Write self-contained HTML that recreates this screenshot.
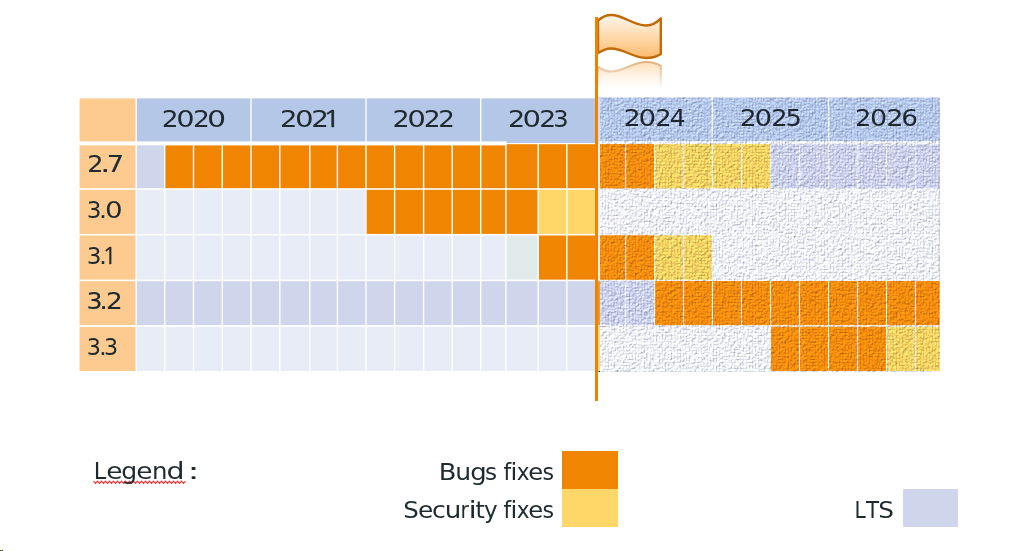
<!DOCTYPE html>
<html><head><meta charset="utf-8"><style>
html,body{margin:0;padding:0;background:#fff;width:1027px;height:551px;overflow:hidden}
svg{position:absolute;left:0;top:0;will-change:transform}
.t{font-family:"DejaVu Sans","Liberation Sans",sans-serif;font-size:23.5px;fill:#1F2A2F}
.bold{stroke:#1F2A2F;stroke-width:0.12px}
.one{font-family:"NanumGothic",sans-serif;stroke:#1F2A2F;stroke-width:0.35px}
.lg2{font-variant-ligatures:none;font-feature-settings:"liga" 0}
.lg{font-family:"DejaVu Sans","Liberation Sans",sans-serif;font-size:23px;fill:#1F2A2F;font-variant-ligatures:none;font-feature-settings:"liga" 0}
</style></head><body>
<svg width="1027" height="551" viewBox="0 0 1027 551">
<defs>
<filter id="cv" x="597" y="97" width="344" height="276" filterUnits="userSpaceOnUse" color-interpolation-filters="sRGB">
<feTurbulence type="fractalNoise" baseFrequency="0.7 0.28" numOctaves="2" seed="3" result="a0"/>
<feColorMatrix in="a0" type="matrix" values="1 0 0 0 0  1 0 0 0 0  1 0 0 0 0  0 0 0 0 1" result="a"/>
<feTurbulence type="fractalNoise" baseFrequency="0.28 0.7" numOctaves="2" seed="11" result="b0"/>
<feColorMatrix in="b0" type="matrix" values="1 0 0 0 0  1 0 0 0 0  1 0 0 0 0  0 0 0 0 1" result="b"/>
<feComposite in="a" in2="b" operator="arithmetic" k2="0.5" k3="0.5" result="ab"/>
<feColorMatrix in="ab" type="matrix" values="0 0 0 0 0  0 0 0 0 0  0 0 0 0 0  1 0 0 0 0" result="h"/>
<feDiffuseLighting in="h" surfaceScale="1.4" diffuseConstant="1.0" lighting-color="#FAFBFF" result="l">
<feDistantLight azimuth="235" elevation="60"/>
</feDiffuseLighting>
<feComposite in="SourceGraphic" in2="l" operator="arithmetic" k1="1.17" k2="0" k3="0" k4="0"/>
</filter>
<pattern id="wv" x="0" y="0" width="36" height="36" patternUnits="userSpaceOnUse"><rect width="36" height="36" fill="#fff"/><rect x="2" y="0" width="1" height="3" fill="#6270A8" fill-opacity="0.16"/><rect x="0" y="2" width="2" height="1" fill="#6270A8" fill-opacity="0.17"/><rect x="2" y="3" width="1" height="3" fill="#6270A8" fill-opacity="0.20"/><rect x="0" y="5" width="2" height="1" fill="#6270A8" fill-opacity="0.21"/><rect x="2" y="6" width="1" height="3" fill="#6270A8" fill-opacity="0.19"/><rect x="0" y="8" width="2" height="1" fill="#6270A8" fill-opacity="0.20"/><rect x="2" y="9" width="1" height="3" fill="#6270A8" fill-opacity="0.03"/><rect x="0" y="11" width="2" height="1" fill="#6270A8" fill-opacity="0.11"/><rect x="2" y="12" width="1" height="3" fill="#6270A8" fill-opacity="0.23"/><rect x="0" y="14" width="2" height="1" fill="#6270A8" fill-opacity="0.15"/><rect x="2" y="15" width="1" height="3" fill="#6270A8" fill-opacity="0.23"/><rect x="0" y="17" width="2" height="1" fill="#6270A8" fill-opacity="0.04"/><rect x="2" y="18" width="1" height="3" fill="#6270A8" fill-opacity="0.13"/><rect x="0" y="20" width="2" height="1" fill="#6270A8" fill-opacity="0.07"/><rect x="2" y="21" width="1" height="3" fill="#6270A8" fill-opacity="0.14"/><rect x="0" y="23" width="2" height="1" fill="#6270A8" fill-opacity="0.13"/><rect x="2" y="24" width="1" height="3" fill="#6270A8" fill-opacity="0.03"/><rect x="0" y="26" width="2" height="1" fill="#6270A8" fill-opacity="0.06"/><rect x="2" y="27" width="1" height="3" fill="#6270A8" fill-opacity="0.09"/><rect x="0" y="29" width="2" height="1" fill="#6270A8" fill-opacity="0.20"/><rect x="2" y="30" width="1" height="3" fill="#6270A8" fill-opacity="0.19"/><rect x="0" y="32" width="2" height="1" fill="#6270A8" fill-opacity="0.05"/><rect x="2" y="33" width="1" height="3" fill="#6270A8" fill-opacity="0.20"/><rect x="0" y="35" width="2" height="1" fill="#6270A8" fill-opacity="0.05"/><rect x="5" y="0" width="1" height="3" fill="#6270A8" fill-opacity="0.16"/><rect x="3" y="2" width="2" height="1" fill="#6270A8" fill-opacity="0.05"/><rect x="5" y="3" width="1" height="3" fill="#6270A8" fill-opacity="0.02"/><rect x="3" y="5" width="2" height="1" fill="#6270A8" fill-opacity="0.19"/><rect x="5" y="6" width="1" height="3" fill="#6270A8" fill-opacity="0.07"/><rect x="3" y="8" width="2" height="1" fill="#6270A8" fill-opacity="0.06"/><rect x="5" y="9" width="1" height="3" fill="#6270A8" fill-opacity="0.24"/><rect x="3" y="11" width="2" height="1" fill="#6270A8" fill-opacity="0.19"/><rect x="5" y="12" width="1" height="3" fill="#6270A8" fill-opacity="0.09"/><rect x="3" y="14" width="2" height="1" fill="#6270A8" fill-opacity="0.21"/><rect x="5" y="15" width="1" height="3" fill="#6270A8" fill-opacity="0.14"/><rect x="3" y="17" width="2" height="1" fill="#6270A8" fill-opacity="0.16"/><rect x="5" y="18" width="1" height="3" fill="#6270A8" fill-opacity="0.07"/><rect x="3" y="20" width="2" height="1" fill="#6270A8" fill-opacity="0.21"/><rect x="5" y="21" width="1" height="3" fill="#6270A8" fill-opacity="0.18"/><rect x="3" y="23" width="2" height="1" fill="#6270A8" fill-opacity="0.21"/><rect x="5" y="24" width="1" height="3" fill="#6270A8" fill-opacity="0.22"/><rect x="3" y="26" width="2" height="1" fill="#6270A8" fill-opacity="0.08"/><rect x="5" y="27" width="1" height="3" fill="#6270A8" fill-opacity="0.10"/><rect x="3" y="29" width="2" height="1" fill="#6270A8" fill-opacity="0.05"/><rect x="5" y="30" width="1" height="3" fill="#6270A8" fill-opacity="0.06"/><rect x="3" y="32" width="2" height="1" fill="#6270A8" fill-opacity="0.03"/><rect x="5" y="33" width="1" height="3" fill="#6270A8" fill-opacity="0.09"/><rect x="3" y="35" width="2" height="1" fill="#6270A8" fill-opacity="0.14"/><rect x="8" y="0" width="1" height="3" fill="#6270A8" fill-opacity="0.02"/><rect x="6" y="2" width="2" height="1" fill="#6270A8" fill-opacity="0.16"/><rect x="8" y="3" width="1" height="3" fill="#6270A8" fill-opacity="0.10"/><rect x="6" y="5" width="2" height="1" fill="#6270A8" fill-opacity="0.08"/><rect x="8" y="6" width="1" height="3" fill="#6270A8" fill-opacity="0.21"/><rect x="6" y="8" width="2" height="1" fill="#6270A8" fill-opacity="0.12"/><rect x="8" y="9" width="1" height="3" fill="#6270A8" fill-opacity="0.09"/><rect x="6" y="11" width="2" height="1" fill="#6270A8" fill-opacity="0.12"/><rect x="8" y="12" width="1" height="3" fill="#6270A8" fill-opacity="0.18"/><rect x="6" y="14" width="2" height="1" fill="#6270A8" fill-opacity="0.03"/><rect x="8" y="15" width="1" height="3" fill="#6270A8" fill-opacity="0.24"/><rect x="6" y="17" width="2" height="1" fill="#6270A8" fill-opacity="0.02"/><rect x="8" y="18" width="1" height="3" fill="#6270A8" fill-opacity="0.19"/><rect x="6" y="20" width="2" height="1" fill="#6270A8" fill-opacity="0.19"/><rect x="8" y="21" width="1" height="3" fill="#6270A8" fill-opacity="0.03"/><rect x="6" y="23" width="2" height="1" fill="#6270A8" fill-opacity="0.18"/><rect x="8" y="24" width="1" height="3" fill="#6270A8" fill-opacity="0.10"/><rect x="6" y="26" width="2" height="1" fill="#6270A8" fill-opacity="0.14"/><rect x="8" y="27" width="1" height="3" fill="#6270A8" fill-opacity="0.02"/><rect x="6" y="29" width="2" height="1" fill="#6270A8" fill-opacity="0.03"/><rect x="8" y="30" width="1" height="3" fill="#6270A8" fill-opacity="0.06"/><rect x="6" y="32" width="2" height="1" fill="#6270A8" fill-opacity="0.21"/><rect x="8" y="33" width="1" height="3" fill="#6270A8" fill-opacity="0.07"/><rect x="6" y="35" width="2" height="1" fill="#6270A8" fill-opacity="0.17"/><rect x="11" y="0" width="1" height="3" fill="#6270A8" fill-opacity="0.23"/><rect x="9" y="2" width="2" height="1" fill="#6270A8" fill-opacity="0.21"/><rect x="11" y="3" width="1" height="3" fill="#6270A8" fill-opacity="0.10"/><rect x="9" y="5" width="2" height="1" fill="#6270A8" fill-opacity="0.09"/><rect x="11" y="6" width="1" height="3" fill="#6270A8" fill-opacity="0.14"/><rect x="9" y="8" width="2" height="1" fill="#6270A8" fill-opacity="0.18"/><rect x="11" y="9" width="1" height="3" fill="#6270A8" fill-opacity="0.05"/><rect x="9" y="11" width="2" height="1" fill="#6270A8" fill-opacity="0.17"/><rect x="11" y="12" width="1" height="3" fill="#6270A8" fill-opacity="0.20"/><rect x="9" y="14" width="2" height="1" fill="#6270A8" fill-opacity="0.19"/><rect x="11" y="15" width="1" height="3" fill="#6270A8" fill-opacity="0.03"/><rect x="9" y="17" width="2" height="1" fill="#6270A8" fill-opacity="0.21"/><rect x="11" y="18" width="1" height="3" fill="#6270A8" fill-opacity="0.04"/><rect x="9" y="20" width="2" height="1" fill="#6270A8" fill-opacity="0.09"/><rect x="11" y="21" width="1" height="3" fill="#6270A8" fill-opacity="0.16"/><rect x="9" y="23" width="2" height="1" fill="#6270A8" fill-opacity="0.20"/><rect x="11" y="24" width="1" height="3" fill="#6270A8" fill-opacity="0.10"/><rect x="9" y="26" width="2" height="1" fill="#6270A8" fill-opacity="0.20"/><rect x="11" y="27" width="1" height="3" fill="#6270A8" fill-opacity="0.15"/><rect x="9" y="29" width="2" height="1" fill="#6270A8" fill-opacity="0.08"/><rect x="11" y="30" width="1" height="3" fill="#6270A8" fill-opacity="0.09"/><rect x="9" y="32" width="2" height="1" fill="#6270A8" fill-opacity="0.06"/><rect x="11" y="33" width="1" height="3" fill="#6270A8" fill-opacity="0.04"/><rect x="9" y="35" width="2" height="1" fill="#6270A8" fill-opacity="0.05"/><rect x="14" y="0" width="1" height="3" fill="#6270A8" fill-opacity="0.18"/><rect x="12" y="2" width="2" height="1" fill="#6270A8" fill-opacity="0.22"/><rect x="14" y="3" width="1" height="3" fill="#6270A8" fill-opacity="0.06"/><rect x="12" y="5" width="2" height="1" fill="#6270A8" fill-opacity="0.03"/><rect x="14" y="6" width="1" height="3" fill="#6270A8" fill-opacity="0.24"/><rect x="12" y="8" width="2" height="1" fill="#6270A8" fill-opacity="0.13"/><rect x="14" y="9" width="1" height="3" fill="#6270A8" fill-opacity="0.11"/><rect x="12" y="11" width="2" height="1" fill="#6270A8" fill-opacity="0.07"/><rect x="14" y="12" width="1" height="3" fill="#6270A8" fill-opacity="0.16"/><rect x="12" y="14" width="2" height="1" fill="#6270A8" fill-opacity="0.19"/><rect x="14" y="15" width="1" height="3" fill="#6270A8" fill-opacity="0.13"/><rect x="12" y="17" width="2" height="1" fill="#6270A8" fill-opacity="0.10"/><rect x="14" y="18" width="1" height="3" fill="#6270A8" fill-opacity="0.04"/><rect x="12" y="20" width="2" height="1" fill="#6270A8" fill-opacity="0.20"/><rect x="14" y="21" width="1" height="3" fill="#6270A8" fill-opacity="0.03"/><rect x="12" y="23" width="2" height="1" fill="#6270A8" fill-opacity="0.12"/><rect x="14" y="24" width="1" height="3" fill="#6270A8" fill-opacity="0.21"/><rect x="12" y="26" width="2" height="1" fill="#6270A8" fill-opacity="0.05"/><rect x="14" y="27" width="1" height="3" fill="#6270A8" fill-opacity="0.19"/><rect x="12" y="29" width="2" height="1" fill="#6270A8" fill-opacity="0.21"/><rect x="14" y="30" width="1" height="3" fill="#6270A8" fill-opacity="0.16"/><rect x="12" y="32" width="2" height="1" fill="#6270A8" fill-opacity="0.18"/><rect x="14" y="33" width="1" height="3" fill="#6270A8" fill-opacity="0.05"/><rect x="12" y="35" width="2" height="1" fill="#6270A8" fill-opacity="0.11"/><rect x="17" y="0" width="1" height="3" fill="#6270A8" fill-opacity="0.06"/><rect x="15" y="2" width="2" height="1" fill="#6270A8" fill-opacity="0.19"/><rect x="17" y="3" width="1" height="3" fill="#6270A8" fill-opacity="0.09"/><rect x="15" y="5" width="2" height="1" fill="#6270A8" fill-opacity="0.11"/><rect x="17" y="6" width="1" height="3" fill="#6270A8" fill-opacity="0.25"/><rect x="15" y="8" width="2" height="1" fill="#6270A8" fill-opacity="0.19"/><rect x="17" y="9" width="1" height="3" fill="#6270A8" fill-opacity="0.24"/><rect x="15" y="11" width="2" height="1" fill="#6270A8" fill-opacity="0.11"/><rect x="17" y="12" width="1" height="3" fill="#6270A8" fill-opacity="0.13"/><rect x="15" y="14" width="2" height="1" fill="#6270A8" fill-opacity="0.17"/><rect x="17" y="15" width="1" height="3" fill="#6270A8" fill-opacity="0.13"/><rect x="15" y="17" width="2" height="1" fill="#6270A8" fill-opacity="0.08"/><rect x="17" y="18" width="1" height="3" fill="#6270A8" fill-opacity="0.11"/><rect x="15" y="20" width="2" height="1" fill="#6270A8" fill-opacity="0.05"/><rect x="17" y="21" width="1" height="3" fill="#6270A8" fill-opacity="0.11"/><rect x="15" y="23" width="2" height="1" fill="#6270A8" fill-opacity="0.22"/><rect x="17" y="24" width="1" height="3" fill="#6270A8" fill-opacity="0.24"/><rect x="15" y="26" width="2" height="1" fill="#6270A8" fill-opacity="0.15"/><rect x="17" y="27" width="1" height="3" fill="#6270A8" fill-opacity="0.13"/><rect x="15" y="29" width="2" height="1" fill="#6270A8" fill-opacity="0.09"/><rect x="17" y="30" width="1" height="3" fill="#6270A8" fill-opacity="0.04"/><rect x="15" y="32" width="2" height="1" fill="#6270A8" fill-opacity="0.07"/><rect x="17" y="33" width="1" height="3" fill="#6270A8" fill-opacity="0.20"/><rect x="15" y="35" width="2" height="1" fill="#6270A8" fill-opacity="0.19"/><rect x="20" y="0" width="1" height="3" fill="#6270A8" fill-opacity="0.10"/><rect x="18" y="2" width="2" height="1" fill="#6270A8" fill-opacity="0.18"/><rect x="20" y="3" width="1" height="3" fill="#6270A8" fill-opacity="0.20"/><rect x="18" y="5" width="2" height="1" fill="#6270A8" fill-opacity="0.16"/><rect x="20" y="6" width="1" height="3" fill="#6270A8" fill-opacity="0.17"/><rect x="18" y="8" width="2" height="1" fill="#6270A8" fill-opacity="0.17"/><rect x="20" y="9" width="1" height="3" fill="#6270A8" fill-opacity="0.10"/><rect x="18" y="11" width="2" height="1" fill="#6270A8" fill-opacity="0.16"/><rect x="20" y="12" width="1" height="3" fill="#6270A8" fill-opacity="0.09"/><rect x="18" y="14" width="2" height="1" fill="#6270A8" fill-opacity="0.12"/><rect x="20" y="15" width="1" height="3" fill="#6270A8" fill-opacity="0.20"/><rect x="18" y="17" width="2" height="1" fill="#6270A8" fill-opacity="0.16"/><rect x="20" y="18" width="1" height="3" fill="#6270A8" fill-opacity="0.09"/><rect x="18" y="20" width="2" height="1" fill="#6270A8" fill-opacity="0.21"/><rect x="20" y="21" width="1" height="3" fill="#6270A8" fill-opacity="0.17"/><rect x="18" y="23" width="2" height="1" fill="#6270A8" fill-opacity="0.14"/><rect x="20" y="24" width="1" height="3" fill="#6270A8" fill-opacity="0.03"/><rect x="18" y="26" width="2" height="1" fill="#6270A8" fill-opacity="0.13"/><rect x="20" y="27" width="1" height="3" fill="#6270A8" fill-opacity="0.08"/><rect x="18" y="29" width="2" height="1" fill="#6270A8" fill-opacity="0.15"/><rect x="20" y="30" width="1" height="3" fill="#6270A8" fill-opacity="0.13"/><rect x="18" y="32" width="2" height="1" fill="#6270A8" fill-opacity="0.18"/><rect x="20" y="33" width="1" height="3" fill="#6270A8" fill-opacity="0.17"/><rect x="18" y="35" width="2" height="1" fill="#6270A8" fill-opacity="0.18"/><rect x="23" y="0" width="1" height="3" fill="#6270A8" fill-opacity="0.10"/><rect x="21" y="2" width="2" height="1" fill="#6270A8" fill-opacity="0.15"/><rect x="23" y="3" width="1" height="3" fill="#6270A8" fill-opacity="0.19"/><rect x="21" y="5" width="2" height="1" fill="#6270A8" fill-opacity="0.19"/><rect x="23" y="6" width="1" height="3" fill="#6270A8" fill-opacity="0.10"/><rect x="21" y="8" width="2" height="1" fill="#6270A8" fill-opacity="0.19"/><rect x="23" y="9" width="1" height="3" fill="#6270A8" fill-opacity="0.22"/><rect x="21" y="11" width="2" height="1" fill="#6270A8" fill-opacity="0.16"/><rect x="23" y="12" width="1" height="3" fill="#6270A8" fill-opacity="0.24"/><rect x="21" y="14" width="2" height="1" fill="#6270A8" fill-opacity="0.21"/><rect x="23" y="15" width="1" height="3" fill="#6270A8" fill-opacity="0.14"/><rect x="21" y="17" width="2" height="1" fill="#6270A8" fill-opacity="0.13"/><rect x="23" y="18" width="1" height="3" fill="#6270A8" fill-opacity="0.06"/><rect x="21" y="20" width="2" height="1" fill="#6270A8" fill-opacity="0.19"/><rect x="23" y="21" width="1" height="3" fill="#6270A8" fill-opacity="0.23"/><rect x="21" y="23" width="2" height="1" fill="#6270A8" fill-opacity="0.12"/><rect x="23" y="24" width="1" height="3" fill="#6270A8" fill-opacity="0.18"/><rect x="21" y="26" width="2" height="1" fill="#6270A8" fill-opacity="0.16"/><rect x="23" y="27" width="1" height="3" fill="#6270A8" fill-opacity="0.19"/><rect x="21" y="29" width="2" height="1" fill="#6270A8" fill-opacity="0.05"/><rect x="23" y="30" width="1" height="3" fill="#6270A8" fill-opacity="0.20"/><rect x="21" y="32" width="2" height="1" fill="#6270A8" fill-opacity="0.14"/><rect x="23" y="33" width="1" height="3" fill="#6270A8" fill-opacity="0.17"/><rect x="21" y="35" width="2" height="1" fill="#6270A8" fill-opacity="0.10"/><rect x="26" y="0" width="1" height="3" fill="#6270A8" fill-opacity="0.16"/><rect x="24" y="2" width="2" height="1" fill="#6270A8" fill-opacity="0.17"/><rect x="26" y="3" width="1" height="3" fill="#6270A8" fill-opacity="0.17"/><rect x="24" y="5" width="2" height="1" fill="#6270A8" fill-opacity="0.16"/><rect x="26" y="6" width="1" height="3" fill="#6270A8" fill-opacity="0.03"/><rect x="24" y="8" width="2" height="1" fill="#6270A8" fill-opacity="0.05"/><rect x="26" y="9" width="1" height="3" fill="#6270A8" fill-opacity="0.12"/><rect x="24" y="11" width="2" height="1" fill="#6270A8" fill-opacity="0.15"/><rect x="26" y="12" width="1" height="3" fill="#6270A8" fill-opacity="0.07"/><rect x="24" y="14" width="2" height="1" fill="#6270A8" fill-opacity="0.16"/><rect x="26" y="15" width="1" height="3" fill="#6270A8" fill-opacity="0.16"/><rect x="24" y="17" width="2" height="1" fill="#6270A8" fill-opacity="0.03"/><rect x="26" y="18" width="1" height="3" fill="#6270A8" fill-opacity="0.13"/><rect x="24" y="20" width="2" height="1" fill="#6270A8" fill-opacity="0.07"/><rect x="26" y="21" width="1" height="3" fill="#6270A8" fill-opacity="0.03"/><rect x="24" y="23" width="2" height="1" fill="#6270A8" fill-opacity="0.05"/><rect x="26" y="24" width="1" height="3" fill="#6270A8" fill-opacity="0.09"/><rect x="24" y="26" width="2" height="1" fill="#6270A8" fill-opacity="0.06"/><rect x="26" y="27" width="1" height="3" fill="#6270A8" fill-opacity="0.07"/><rect x="24" y="29" width="2" height="1" fill="#6270A8" fill-opacity="0.03"/><rect x="26" y="30" width="1" height="3" fill="#6270A8" fill-opacity="0.13"/><rect x="24" y="32" width="2" height="1" fill="#6270A8" fill-opacity="0.10"/><rect x="26" y="33" width="1" height="3" fill="#6270A8" fill-opacity="0.16"/><rect x="24" y="35" width="2" height="1" fill="#6270A8" fill-opacity="0.14"/><rect x="29" y="0" width="1" height="3" fill="#6270A8" fill-opacity="0.08"/><rect x="27" y="2" width="2" height="1" fill="#6270A8" fill-opacity="0.20"/><rect x="29" y="3" width="1" height="3" fill="#6270A8" fill-opacity="0.02"/><rect x="27" y="5" width="2" height="1" fill="#6270A8" fill-opacity="0.10"/><rect x="29" y="6" width="1" height="3" fill="#6270A8" fill-opacity="0.09"/><rect x="27" y="8" width="2" height="1" fill="#6270A8" fill-opacity="0.10"/><rect x="29" y="9" width="1" height="3" fill="#6270A8" fill-opacity="0.05"/><rect x="27" y="11" width="2" height="1" fill="#6270A8" fill-opacity="0.19"/><rect x="29" y="12" width="1" height="3" fill="#6270A8" fill-opacity="0.11"/><rect x="27" y="14" width="2" height="1" fill="#6270A8" fill-opacity="0.03"/><rect x="29" y="15" width="1" height="3" fill="#6270A8" fill-opacity="0.16"/><rect x="27" y="17" width="2" height="1" fill="#6270A8" fill-opacity="0.04"/><rect x="29" y="18" width="1" height="3" fill="#6270A8" fill-opacity="0.15"/><rect x="27" y="20" width="2" height="1" fill="#6270A8" fill-opacity="0.09"/><rect x="29" y="21" width="1" height="3" fill="#6270A8" fill-opacity="0.15"/><rect x="27" y="23" width="2" height="1" fill="#6270A8" fill-opacity="0.21"/><rect x="29" y="24" width="1" height="3" fill="#6270A8" fill-opacity="0.21"/><rect x="27" y="26" width="2" height="1" fill="#6270A8" fill-opacity="0.10"/><rect x="29" y="27" width="1" height="3" fill="#6270A8" fill-opacity="0.21"/><rect x="27" y="29" width="2" height="1" fill="#6270A8" fill-opacity="0.15"/><rect x="29" y="30" width="1" height="3" fill="#6270A8" fill-opacity="0.11"/><rect x="27" y="32" width="2" height="1" fill="#6270A8" fill-opacity="0.05"/><rect x="29" y="33" width="1" height="3" fill="#6270A8" fill-opacity="0.16"/><rect x="27" y="35" width="2" height="1" fill="#6270A8" fill-opacity="0.13"/><rect x="32" y="0" width="1" height="3" fill="#6270A8" fill-opacity="0.24"/><rect x="30" y="2" width="2" height="1" fill="#6270A8" fill-opacity="0.21"/><rect x="32" y="3" width="1" height="3" fill="#6270A8" fill-opacity="0.16"/><rect x="30" y="5" width="2" height="1" fill="#6270A8" fill-opacity="0.09"/><rect x="32" y="6" width="1" height="3" fill="#6270A8" fill-opacity="0.22"/><rect x="30" y="8" width="2" height="1" fill="#6270A8" fill-opacity="0.02"/><rect x="32" y="9" width="1" height="3" fill="#6270A8" fill-opacity="0.05"/><rect x="30" y="11" width="2" height="1" fill="#6270A8" fill-opacity="0.13"/><rect x="32" y="12" width="1" height="3" fill="#6270A8" fill-opacity="0.16"/><rect x="30" y="14" width="2" height="1" fill="#6270A8" fill-opacity="0.05"/><rect x="32" y="15" width="1" height="3" fill="#6270A8" fill-opacity="0.16"/><rect x="30" y="17" width="2" height="1" fill="#6270A8" fill-opacity="0.20"/><rect x="32" y="18" width="1" height="3" fill="#6270A8" fill-opacity="0.11"/><rect x="30" y="20" width="2" height="1" fill="#6270A8" fill-opacity="0.11"/><rect x="32" y="21" width="1" height="3" fill="#6270A8" fill-opacity="0.07"/><rect x="30" y="23" width="2" height="1" fill="#6270A8" fill-opacity="0.08"/><rect x="32" y="24" width="1" height="3" fill="#6270A8" fill-opacity="0.24"/><rect x="30" y="26" width="2" height="1" fill="#6270A8" fill-opacity="0.10"/><rect x="32" y="27" width="1" height="3" fill="#6270A8" fill-opacity="0.24"/><rect x="30" y="29" width="2" height="1" fill="#6270A8" fill-opacity="0.20"/><rect x="32" y="30" width="1" height="3" fill="#6270A8" fill-opacity="0.16"/><rect x="30" y="32" width="2" height="1" fill="#6270A8" fill-opacity="0.07"/><rect x="32" y="33" width="1" height="3" fill="#6270A8" fill-opacity="0.24"/><rect x="30" y="35" width="2" height="1" fill="#6270A8" fill-opacity="0.12"/><rect x="35" y="0" width="1" height="3" fill="#6270A8" fill-opacity="0.12"/><rect x="33" y="2" width="2" height="1" fill="#6270A8" fill-opacity="0.08"/><rect x="35" y="3" width="1" height="3" fill="#6270A8" fill-opacity="0.24"/><rect x="33" y="5" width="2" height="1" fill="#6270A8" fill-opacity="0.12"/><rect x="35" y="6" width="1" height="3" fill="#6270A8" fill-opacity="0.09"/><rect x="33" y="8" width="2" height="1" fill="#6270A8" fill-opacity="0.12"/><rect x="35" y="9" width="1" height="3" fill="#6270A8" fill-opacity="0.05"/><rect x="33" y="11" width="2" height="1" fill="#6270A8" fill-opacity="0.14"/><rect x="35" y="12" width="1" height="3" fill="#6270A8" fill-opacity="0.12"/><rect x="33" y="14" width="2" height="1" fill="#6270A8" fill-opacity="0.08"/><rect x="35" y="15" width="1" height="3" fill="#6270A8" fill-opacity="0.20"/><rect x="33" y="17" width="2" height="1" fill="#6270A8" fill-opacity="0.19"/><rect x="35" y="18" width="1" height="3" fill="#6270A8" fill-opacity="0.03"/><rect x="33" y="20" width="2" height="1" fill="#6270A8" fill-opacity="0.13"/><rect x="35" y="21" width="1" height="3" fill="#6270A8" fill-opacity="0.08"/><rect x="33" y="23" width="2" height="1" fill="#6270A8" fill-opacity="0.21"/><rect x="35" y="24" width="1" height="3" fill="#6270A8" fill-opacity="0.20"/><rect x="33" y="26" width="2" height="1" fill="#6270A8" fill-opacity="0.07"/><rect x="35" y="27" width="1" height="3" fill="#6270A8" fill-opacity="0.08"/><rect x="33" y="29" width="2" height="1" fill="#6270A8" fill-opacity="0.05"/><rect x="35" y="30" width="1" height="3" fill="#6270A8" fill-opacity="0.24"/><rect x="33" y="32" width="2" height="1" fill="#6270A8" fill-opacity="0.08"/><rect x="35" y="33" width="1" height="3" fill="#6270A8" fill-opacity="0.16"/><rect x="33" y="35" width="2" height="1" fill="#6270A8" fill-opacity="0.11"/></pattern><pattern id="wo" x="0" y="0" width="36" height="36" patternUnits="userSpaceOnUse"><rect width="36" height="36" fill="#fff"/><rect x="2" y="0" width="1" height="3" fill="#A8640E" fill-opacity="0.18"/><rect x="0" y="2" width="2" height="1" fill="#A8640E" fill-opacity="0.19"/><rect x="2" y="3" width="1" height="3" fill="#A8640E" fill-opacity="0.22"/><rect x="0" y="5" width="2" height="1" fill="#A8640E" fill-opacity="0.23"/><rect x="2" y="6" width="1" height="3" fill="#A8640E" fill-opacity="0.21"/><rect x="0" y="8" width="2" height="1" fill="#A8640E" fill-opacity="0.23"/><rect x="2" y="9" width="1" height="3" fill="#A8640E" fill-opacity="0.03"/><rect x="0" y="11" width="2" height="1" fill="#A8640E" fill-opacity="0.13"/><rect x="2" y="12" width="1" height="3" fill="#A8640E" fill-opacity="0.26"/><rect x="0" y="14" width="2" height="1" fill="#A8640E" fill-opacity="0.17"/><rect x="2" y="15" width="1" height="3" fill="#A8640E" fill-opacity="0.25"/><rect x="0" y="17" width="2" height="1" fill="#A8640E" fill-opacity="0.05"/><rect x="2" y="18" width="1" height="3" fill="#A8640E" fill-opacity="0.14"/><rect x="0" y="20" width="2" height="1" fill="#A8640E" fill-opacity="0.08"/><rect x="2" y="21" width="1" height="3" fill="#A8640E" fill-opacity="0.16"/><rect x="0" y="23" width="2" height="1" fill="#A8640E" fill-opacity="0.15"/><rect x="2" y="24" width="1" height="3" fill="#A8640E" fill-opacity="0.03"/><rect x="0" y="26" width="2" height="1" fill="#A8640E" fill-opacity="0.07"/><rect x="2" y="27" width="1" height="3" fill="#A8640E" fill-opacity="0.09"/><rect x="0" y="29" width="2" height="1" fill="#A8640E" fill-opacity="0.23"/><rect x="2" y="30" width="1" height="3" fill="#A8640E" fill-opacity="0.22"/><rect x="0" y="32" width="2" height="1" fill="#A8640E" fill-opacity="0.06"/><rect x="2" y="33" width="1" height="3" fill="#A8640E" fill-opacity="0.22"/><rect x="0" y="35" width="2" height="1" fill="#A8640E" fill-opacity="0.05"/><rect x="5" y="0" width="1" height="3" fill="#A8640E" fill-opacity="0.18"/><rect x="3" y="2" width="2" height="1" fill="#A8640E" fill-opacity="0.05"/><rect x="5" y="3" width="1" height="3" fill="#A8640E" fill-opacity="0.03"/><rect x="3" y="5" width="2" height="1" fill="#A8640E" fill-opacity="0.22"/><rect x="5" y="6" width="1" height="3" fill="#A8640E" fill-opacity="0.08"/><rect x="3" y="8" width="2" height="1" fill="#A8640E" fill-opacity="0.07"/><rect x="5" y="9" width="1" height="3" fill="#A8640E" fill-opacity="0.27"/><rect x="3" y="11" width="2" height="1" fill="#A8640E" fill-opacity="0.22"/><rect x="5" y="12" width="1" height="3" fill="#A8640E" fill-opacity="0.10"/><rect x="3" y="14" width="2" height="1" fill="#A8640E" fill-opacity="0.24"/><rect x="5" y="15" width="1" height="3" fill="#A8640E" fill-opacity="0.16"/><rect x="3" y="17" width="2" height="1" fill="#A8640E" fill-opacity="0.18"/><rect x="5" y="18" width="1" height="3" fill="#A8640E" fill-opacity="0.08"/><rect x="3" y="20" width="2" height="1" fill="#A8640E" fill-opacity="0.23"/><rect x="5" y="21" width="1" height="3" fill="#A8640E" fill-opacity="0.20"/><rect x="3" y="23" width="2" height="1" fill="#A8640E" fill-opacity="0.24"/><rect x="5" y="24" width="1" height="3" fill="#A8640E" fill-opacity="0.25"/><rect x="3" y="26" width="2" height="1" fill="#A8640E" fill-opacity="0.09"/><rect x="5" y="27" width="1" height="3" fill="#A8640E" fill-opacity="0.12"/><rect x="3" y="29" width="2" height="1" fill="#A8640E" fill-opacity="0.06"/><rect x="5" y="30" width="1" height="3" fill="#A8640E" fill-opacity="0.06"/><rect x="3" y="32" width="2" height="1" fill="#A8640E" fill-opacity="0.04"/><rect x="5" y="33" width="1" height="3" fill="#A8640E" fill-opacity="0.10"/><rect x="3" y="35" width="2" height="1" fill="#A8640E" fill-opacity="0.16"/><rect x="8" y="0" width="1" height="3" fill="#A8640E" fill-opacity="0.03"/><rect x="6" y="2" width="2" height="1" fill="#A8640E" fill-opacity="0.18"/><rect x="8" y="3" width="1" height="3" fill="#A8640E" fill-opacity="0.11"/><rect x="6" y="5" width="2" height="1" fill="#A8640E" fill-opacity="0.09"/><rect x="8" y="6" width="1" height="3" fill="#A8640E" fill-opacity="0.23"/><rect x="6" y="8" width="2" height="1" fill="#A8640E" fill-opacity="0.13"/><rect x="8" y="9" width="1" height="3" fill="#A8640E" fill-opacity="0.10"/><rect x="6" y="11" width="2" height="1" fill="#A8640E" fill-opacity="0.13"/><rect x="8" y="12" width="1" height="3" fill="#A8640E" fill-opacity="0.20"/><rect x="6" y="14" width="2" height="1" fill="#A8640E" fill-opacity="0.04"/><rect x="8" y="15" width="1" height="3" fill="#A8640E" fill-opacity="0.27"/><rect x="6" y="17" width="2" height="1" fill="#A8640E" fill-opacity="0.03"/><rect x="8" y="18" width="1" height="3" fill="#A8640E" fill-opacity="0.21"/><rect x="6" y="20" width="2" height="1" fill="#A8640E" fill-opacity="0.21"/><rect x="8" y="21" width="1" height="3" fill="#A8640E" fill-opacity="0.03"/><rect x="6" y="23" width="2" height="1" fill="#A8640E" fill-opacity="0.20"/><rect x="8" y="24" width="1" height="3" fill="#A8640E" fill-opacity="0.12"/><rect x="6" y="26" width="2" height="1" fill="#A8640E" fill-opacity="0.15"/><rect x="8" y="27" width="1" height="3" fill="#A8640E" fill-opacity="0.03"/><rect x="6" y="29" width="2" height="1" fill="#A8640E" fill-opacity="0.03"/><rect x="8" y="30" width="1" height="3" fill="#A8640E" fill-opacity="0.07"/><rect x="6" y="32" width="2" height="1" fill="#A8640E" fill-opacity="0.24"/><rect x="8" y="33" width="1" height="3" fill="#A8640E" fill-opacity="0.07"/><rect x="6" y="35" width="2" height="1" fill="#A8640E" fill-opacity="0.19"/><rect x="11" y="0" width="1" height="3" fill="#A8640E" fill-opacity="0.26"/><rect x="9" y="2" width="2" height="1" fill="#A8640E" fill-opacity="0.23"/><rect x="11" y="3" width="1" height="3" fill="#A8640E" fill-opacity="0.11"/><rect x="9" y="5" width="2" height="1" fill="#A8640E" fill-opacity="0.10"/><rect x="11" y="6" width="1" height="3" fill="#A8640E" fill-opacity="0.16"/><rect x="9" y="8" width="2" height="1" fill="#A8640E" fill-opacity="0.20"/><rect x="11" y="9" width="1" height="3" fill="#A8640E" fill-opacity="0.05"/><rect x="9" y="11" width="2" height="1" fill="#A8640E" fill-opacity="0.19"/><rect x="11" y="12" width="1" height="3" fill="#A8640E" fill-opacity="0.22"/><rect x="9" y="14" width="2" height="1" fill="#A8640E" fill-opacity="0.22"/><rect x="11" y="15" width="1" height="3" fill="#A8640E" fill-opacity="0.03"/><rect x="9" y="17" width="2" height="1" fill="#A8640E" fill-opacity="0.24"/><rect x="11" y="18" width="1" height="3" fill="#A8640E" fill-opacity="0.05"/><rect x="9" y="20" width="2" height="1" fill="#A8640E" fill-opacity="0.10"/><rect x="11" y="21" width="1" height="3" fill="#A8640E" fill-opacity="0.18"/><rect x="9" y="23" width="2" height="1" fill="#A8640E" fill-opacity="0.23"/><rect x="11" y="24" width="1" height="3" fill="#A8640E" fill-opacity="0.11"/><rect x="9" y="26" width="2" height="1" fill="#A8640E" fill-opacity="0.23"/><rect x="11" y="27" width="1" height="3" fill="#A8640E" fill-opacity="0.16"/><rect x="9" y="29" width="2" height="1" fill="#A8640E" fill-opacity="0.09"/><rect x="11" y="30" width="1" height="3" fill="#A8640E" fill-opacity="0.10"/><rect x="9" y="32" width="2" height="1" fill="#A8640E" fill-opacity="0.06"/><rect x="11" y="33" width="1" height="3" fill="#A8640E" fill-opacity="0.04"/><rect x="9" y="35" width="2" height="1" fill="#A8640E" fill-opacity="0.06"/><rect x="14" y="0" width="1" height="3" fill="#A8640E" fill-opacity="0.20"/><rect x="12" y="2" width="2" height="1" fill="#A8640E" fill-opacity="0.25"/><rect x="14" y="3" width="1" height="3" fill="#A8640E" fill-opacity="0.07"/><rect x="12" y="5" width="2" height="1" fill="#A8640E" fill-opacity="0.03"/><rect x="14" y="6" width="1" height="3" fill="#A8640E" fill-opacity="0.27"/><rect x="12" y="8" width="2" height="1" fill="#A8640E" fill-opacity="0.14"/><rect x="14" y="9" width="1" height="3" fill="#A8640E" fill-opacity="0.13"/><rect x="12" y="11" width="2" height="1" fill="#A8640E" fill-opacity="0.08"/><rect x="14" y="12" width="1" height="3" fill="#A8640E" fill-opacity="0.17"/><rect x="12" y="14" width="2" height="1" fill="#A8640E" fill-opacity="0.21"/><rect x="14" y="15" width="1" height="3" fill="#A8640E" fill-opacity="0.14"/><rect x="12" y="17" width="2" height="1" fill="#A8640E" fill-opacity="0.12"/><rect x="14" y="18" width="1" height="3" fill="#A8640E" fill-opacity="0.04"/><rect x="12" y="20" width="2" height="1" fill="#A8640E" fill-opacity="0.23"/><rect x="14" y="21" width="1" height="3" fill="#A8640E" fill-opacity="0.03"/><rect x="12" y="23" width="2" height="1" fill="#A8640E" fill-opacity="0.13"/><rect x="14" y="24" width="1" height="3" fill="#A8640E" fill-opacity="0.23"/><rect x="12" y="26" width="2" height="1" fill="#A8640E" fill-opacity="0.05"/><rect x="14" y="27" width="1" height="3" fill="#A8640E" fill-opacity="0.21"/><rect x="12" y="29" width="2" height="1" fill="#A8640E" fill-opacity="0.24"/><rect x="14" y="30" width="1" height="3" fill="#A8640E" fill-opacity="0.18"/><rect x="12" y="32" width="2" height="1" fill="#A8640E" fill-opacity="0.20"/><rect x="14" y="33" width="1" height="3" fill="#A8640E" fill-opacity="0.05"/><rect x="12" y="35" width="2" height="1" fill="#A8640E" fill-opacity="0.12"/><rect x="17" y="0" width="1" height="3" fill="#A8640E" fill-opacity="0.06"/><rect x="15" y="2" width="2" height="1" fill="#A8640E" fill-opacity="0.21"/><rect x="17" y="3" width="1" height="3" fill="#A8640E" fill-opacity="0.10"/><rect x="15" y="5" width="2" height="1" fill="#A8640E" fill-opacity="0.12"/><rect x="17" y="6" width="1" height="3" fill="#A8640E" fill-opacity="0.27"/><rect x="15" y="8" width="2" height="1" fill="#A8640E" fill-opacity="0.21"/><rect x="17" y="9" width="1" height="3" fill="#A8640E" fill-opacity="0.27"/><rect x="15" y="11" width="2" height="1" fill="#A8640E" fill-opacity="0.12"/><rect x="17" y="12" width="1" height="3" fill="#A8640E" fill-opacity="0.15"/><rect x="15" y="14" width="2" height="1" fill="#A8640E" fill-opacity="0.19"/><rect x="17" y="15" width="1" height="3" fill="#A8640E" fill-opacity="0.14"/><rect x="15" y="17" width="2" height="1" fill="#A8640E" fill-opacity="0.09"/><rect x="17" y="18" width="1" height="3" fill="#A8640E" fill-opacity="0.13"/><rect x="15" y="20" width="2" height="1" fill="#A8640E" fill-opacity="0.06"/><rect x="17" y="21" width="1" height="3" fill="#A8640E" fill-opacity="0.12"/><rect x="15" y="23" width="2" height="1" fill="#A8640E" fill-opacity="0.24"/><rect x="17" y="24" width="1" height="3" fill="#A8640E" fill-opacity="0.26"/><rect x="15" y="26" width="2" height="1" fill="#A8640E" fill-opacity="0.16"/><rect x="17" y="27" width="1" height="3" fill="#A8640E" fill-opacity="0.15"/><rect x="15" y="29" width="2" height="1" fill="#A8640E" fill-opacity="0.10"/><rect x="17" y="30" width="1" height="3" fill="#A8640E" fill-opacity="0.05"/><rect x="15" y="32" width="2" height="1" fill="#A8640E" fill-opacity="0.08"/><rect x="17" y="33" width="1" height="3" fill="#A8640E" fill-opacity="0.22"/><rect x="15" y="35" width="2" height="1" fill="#A8640E" fill-opacity="0.22"/><rect x="20" y="0" width="1" height="3" fill="#A8640E" fill-opacity="0.12"/><rect x="18" y="2" width="2" height="1" fill="#A8640E" fill-opacity="0.20"/><rect x="20" y="3" width="1" height="3" fill="#A8640E" fill-opacity="0.22"/><rect x="18" y="5" width="2" height="1" fill="#A8640E" fill-opacity="0.18"/><rect x="20" y="6" width="1" height="3" fill="#A8640E" fill-opacity="0.19"/><rect x="18" y="8" width="2" height="1" fill="#A8640E" fill-opacity="0.19"/><rect x="20" y="9" width="1" height="3" fill="#A8640E" fill-opacity="0.12"/><rect x="18" y="11" width="2" height="1" fill="#A8640E" fill-opacity="0.18"/><rect x="20" y="12" width="1" height="3" fill="#A8640E" fill-opacity="0.10"/><rect x="18" y="14" width="2" height="1" fill="#A8640E" fill-opacity="0.13"/><rect x="20" y="15" width="1" height="3" fill="#A8640E" fill-opacity="0.22"/><rect x="18" y="17" width="2" height="1" fill="#A8640E" fill-opacity="0.18"/><rect x="20" y="18" width="1" height="3" fill="#A8640E" fill-opacity="0.10"/><rect x="18" y="20" width="2" height="1" fill="#A8640E" fill-opacity="0.24"/><rect x="20" y="21" width="1" height="3" fill="#A8640E" fill-opacity="0.19"/><rect x="18" y="23" width="2" height="1" fill="#A8640E" fill-opacity="0.15"/><rect x="20" y="24" width="1" height="3" fill="#A8640E" fill-opacity="0.03"/><rect x="18" y="26" width="2" height="1" fill="#A8640E" fill-opacity="0.15"/><rect x="20" y="27" width="1" height="3" fill="#A8640E" fill-opacity="0.09"/><rect x="18" y="29" width="2" height="1" fill="#A8640E" fill-opacity="0.17"/><rect x="20" y="30" width="1" height="3" fill="#A8640E" fill-opacity="0.14"/><rect x="18" y="32" width="2" height="1" fill="#A8640E" fill-opacity="0.21"/><rect x="20" y="33" width="1" height="3" fill="#A8640E" fill-opacity="0.19"/><rect x="18" y="35" width="2" height="1" fill="#A8640E" fill-opacity="0.20"/><rect x="23" y="0" width="1" height="3" fill="#A8640E" fill-opacity="0.11"/><rect x="21" y="2" width="2" height="1" fill="#A8640E" fill-opacity="0.17"/><rect x="23" y="3" width="1" height="3" fill="#A8640E" fill-opacity="0.21"/><rect x="21" y="5" width="2" height="1" fill="#A8640E" fill-opacity="0.21"/><rect x="23" y="6" width="1" height="3" fill="#A8640E" fill-opacity="0.11"/><rect x="21" y="8" width="2" height="1" fill="#A8640E" fill-opacity="0.21"/><rect x="23" y="9" width="1" height="3" fill="#A8640E" fill-opacity="0.24"/><rect x="21" y="11" width="2" height="1" fill="#A8640E" fill-opacity="0.18"/><rect x="23" y="12" width="1" height="3" fill="#A8640E" fill-opacity="0.27"/><rect x="21" y="14" width="2" height="1" fill="#A8640E" fill-opacity="0.24"/><rect x="23" y="15" width="1" height="3" fill="#A8640E" fill-opacity="0.15"/><rect x="21" y="17" width="2" height="1" fill="#A8640E" fill-opacity="0.14"/><rect x="23" y="18" width="1" height="3" fill="#A8640E" fill-opacity="0.07"/><rect x="21" y="20" width="2" height="1" fill="#A8640E" fill-opacity="0.21"/><rect x="23" y="21" width="1" height="3" fill="#A8640E" fill-opacity="0.26"/><rect x="21" y="23" width="2" height="1" fill="#A8640E" fill-opacity="0.13"/><rect x="23" y="24" width="1" height="3" fill="#A8640E" fill-opacity="0.20"/><rect x="21" y="26" width="2" height="1" fill="#A8640E" fill-opacity="0.18"/><rect x="23" y="27" width="1" height="3" fill="#A8640E" fill-opacity="0.21"/><rect x="21" y="29" width="2" height="1" fill="#A8640E" fill-opacity="0.06"/><rect x="23" y="30" width="1" height="3" fill="#A8640E" fill-opacity="0.22"/><rect x="21" y="32" width="2" height="1" fill="#A8640E" fill-opacity="0.15"/><rect x="23" y="33" width="1" height="3" fill="#A8640E" fill-opacity="0.19"/><rect x="21" y="35" width="2" height="1" fill="#A8640E" fill-opacity="0.12"/><rect x="26" y="0" width="1" height="3" fill="#A8640E" fill-opacity="0.18"/><rect x="24" y="2" width="2" height="1" fill="#A8640E" fill-opacity="0.20"/><rect x="26" y="3" width="1" height="3" fill="#A8640E" fill-opacity="0.18"/><rect x="24" y="5" width="2" height="1" fill="#A8640E" fill-opacity="0.18"/><rect x="26" y="6" width="1" height="3" fill="#A8640E" fill-opacity="0.03"/><rect x="24" y="8" width="2" height="1" fill="#A8640E" fill-opacity="0.06"/><rect x="26" y="9" width="1" height="3" fill="#A8640E" fill-opacity="0.14"/><rect x="24" y="11" width="2" height="1" fill="#A8640E" fill-opacity="0.17"/><rect x="26" y="12" width="1" height="3" fill="#A8640E" fill-opacity="0.08"/><rect x="24" y="14" width="2" height="1" fill="#A8640E" fill-opacity="0.18"/><rect x="26" y="15" width="1" height="3" fill="#A8640E" fill-opacity="0.18"/><rect x="24" y="17" width="2" height="1" fill="#A8640E" fill-opacity="0.03"/><rect x="26" y="18" width="1" height="3" fill="#A8640E" fill-opacity="0.14"/><rect x="24" y="20" width="2" height="1" fill="#A8640E" fill-opacity="0.07"/><rect x="26" y="21" width="1" height="3" fill="#A8640E" fill-opacity="0.04"/><rect x="24" y="23" width="2" height="1" fill="#A8640E" fill-opacity="0.05"/><rect x="26" y="24" width="1" height="3" fill="#A8640E" fill-opacity="0.10"/><rect x="24" y="26" width="2" height="1" fill="#A8640E" fill-opacity="0.06"/><rect x="26" y="27" width="1" height="3" fill="#A8640E" fill-opacity="0.07"/><rect x="24" y="29" width="2" height="1" fill="#A8640E" fill-opacity="0.03"/><rect x="26" y="30" width="1" height="3" fill="#A8640E" fill-opacity="0.14"/><rect x="24" y="32" width="2" height="1" fill="#A8640E" fill-opacity="0.11"/><rect x="26" y="33" width="1" height="3" fill="#A8640E" fill-opacity="0.18"/><rect x="24" y="35" width="2" height="1" fill="#A8640E" fill-opacity="0.16"/><rect x="29" y="0" width="1" height="3" fill="#A8640E" fill-opacity="0.08"/><rect x="27" y="2" width="2" height="1" fill="#A8640E" fill-opacity="0.23"/><rect x="29" y="3" width="1" height="3" fill="#A8640E" fill-opacity="0.03"/><rect x="27" y="5" width="2" height="1" fill="#A8640E" fill-opacity="0.11"/><rect x="29" y="6" width="1" height="3" fill="#A8640E" fill-opacity="0.09"/><rect x="27" y="8" width="2" height="1" fill="#A8640E" fill-opacity="0.11"/><rect x="29" y="9" width="1" height="3" fill="#A8640E" fill-opacity="0.05"/><rect x="27" y="11" width="2" height="1" fill="#A8640E" fill-opacity="0.21"/><rect x="29" y="12" width="1" height="3" fill="#A8640E" fill-opacity="0.12"/><rect x="27" y="14" width="2" height="1" fill="#A8640E" fill-opacity="0.03"/><rect x="29" y="15" width="1" height="3" fill="#A8640E" fill-opacity="0.18"/><rect x="27" y="17" width="2" height="1" fill="#A8640E" fill-opacity="0.04"/><rect x="29" y="18" width="1" height="3" fill="#A8640E" fill-opacity="0.16"/><rect x="27" y="20" width="2" height="1" fill="#A8640E" fill-opacity="0.10"/><rect x="29" y="21" width="1" height="3" fill="#A8640E" fill-opacity="0.17"/><rect x="27" y="23" width="2" height="1" fill="#A8640E" fill-opacity="0.24"/><rect x="29" y="24" width="1" height="3" fill="#A8640E" fill-opacity="0.23"/><rect x="27" y="26" width="2" height="1" fill="#A8640E" fill-opacity="0.12"/><rect x="29" y="27" width="1" height="3" fill="#A8640E" fill-opacity="0.23"/><rect x="27" y="29" width="2" height="1" fill="#A8640E" fill-opacity="0.17"/><rect x="29" y="30" width="1" height="3" fill="#A8640E" fill-opacity="0.12"/><rect x="27" y="32" width="2" height="1" fill="#A8640E" fill-opacity="0.05"/><rect x="29" y="33" width="1" height="3" fill="#A8640E" fill-opacity="0.17"/><rect x="27" y="35" width="2" height="1" fill="#A8640E" fill-opacity="0.15"/><rect x="32" y="0" width="1" height="3" fill="#A8640E" fill-opacity="0.26"/><rect x="30" y="2" width="2" height="1" fill="#A8640E" fill-opacity="0.24"/><rect x="32" y="3" width="1" height="3" fill="#A8640E" fill-opacity="0.18"/><rect x="30" y="5" width="2" height="1" fill="#A8640E" fill-opacity="0.10"/><rect x="32" y="6" width="1" height="3" fill="#A8640E" fill-opacity="0.25"/><rect x="30" y="8" width="2" height="1" fill="#A8640E" fill-opacity="0.02"/><rect x="32" y="9" width="1" height="3" fill="#A8640E" fill-opacity="0.05"/><rect x="30" y="11" width="2" height="1" fill="#A8640E" fill-opacity="0.15"/><rect x="32" y="12" width="1" height="3" fill="#A8640E" fill-opacity="0.18"/><rect x="30" y="14" width="2" height="1" fill="#A8640E" fill-opacity="0.05"/><rect x="32" y="15" width="1" height="3" fill="#A8640E" fill-opacity="0.18"/><rect x="30" y="17" width="2" height="1" fill="#A8640E" fill-opacity="0.22"/><rect x="32" y="18" width="1" height="3" fill="#A8640E" fill-opacity="0.12"/><rect x="30" y="20" width="2" height="1" fill="#A8640E" fill-opacity="0.12"/><rect x="32" y="21" width="1" height="3" fill="#A8640E" fill-opacity="0.08"/><rect x="30" y="23" width="2" height="1" fill="#A8640E" fill-opacity="0.09"/><rect x="32" y="24" width="1" height="3" fill="#A8640E" fill-opacity="0.27"/><rect x="30" y="26" width="2" height="1" fill="#A8640E" fill-opacity="0.11"/><rect x="32" y="27" width="1" height="3" fill="#A8640E" fill-opacity="0.27"/><rect x="30" y="29" width="2" height="1" fill="#A8640E" fill-opacity="0.23"/><rect x="32" y="30" width="1" height="3" fill="#A8640E" fill-opacity="0.17"/><rect x="30" y="32" width="2" height="1" fill="#A8640E" fill-opacity="0.08"/><rect x="32" y="33" width="1" height="3" fill="#A8640E" fill-opacity="0.27"/><rect x="30" y="35" width="2" height="1" fill="#A8640E" fill-opacity="0.13"/><rect x="35" y="0" width="1" height="3" fill="#A8640E" fill-opacity="0.13"/><rect x="33" y="2" width="2" height="1" fill="#A8640E" fill-opacity="0.09"/><rect x="35" y="3" width="1" height="3" fill="#A8640E" fill-opacity="0.27"/><rect x="33" y="5" width="2" height="1" fill="#A8640E" fill-opacity="0.13"/><rect x="35" y="6" width="1" height="3" fill="#A8640E" fill-opacity="0.10"/><rect x="33" y="8" width="2" height="1" fill="#A8640E" fill-opacity="0.13"/><rect x="35" y="9" width="1" height="3" fill="#A8640E" fill-opacity="0.06"/><rect x="33" y="11" width="2" height="1" fill="#A8640E" fill-opacity="0.16"/><rect x="35" y="12" width="1" height="3" fill="#A8640E" fill-opacity="0.14"/><rect x="33" y="14" width="2" height="1" fill="#A8640E" fill-opacity="0.09"/><rect x="35" y="15" width="1" height="3" fill="#A8640E" fill-opacity="0.22"/><rect x="33" y="17" width="2" height="1" fill="#A8640E" fill-opacity="0.21"/><rect x="35" y="18" width="1" height="3" fill="#A8640E" fill-opacity="0.03"/><rect x="33" y="20" width="2" height="1" fill="#A8640E" fill-opacity="0.14"/><rect x="35" y="21" width="1" height="3" fill="#A8640E" fill-opacity="0.09"/><rect x="33" y="23" width="2" height="1" fill="#A8640E" fill-opacity="0.23"/><rect x="35" y="24" width="1" height="3" fill="#A8640E" fill-opacity="0.22"/><rect x="33" y="26" width="2" height="1" fill="#A8640E" fill-opacity="0.08"/><rect x="35" y="27" width="1" height="3" fill="#A8640E" fill-opacity="0.09"/><rect x="33" y="29" width="2" height="1" fill="#A8640E" fill-opacity="0.06"/><rect x="35" y="30" width="1" height="3" fill="#A8640E" fill-opacity="0.27"/><rect x="33" y="32" width="2" height="1" fill="#A8640E" fill-opacity="0.09"/><rect x="35" y="33" width="1" height="3" fill="#A8640E" fill-opacity="0.18"/><rect x="33" y="35" width="2" height="1" fill="#A8640E" fill-opacity="0.13"/></pattern>
<linearGradient id="fg" x1="0" y1="0" x2="0" y2="1">
<stop offset="0" stop-color="#FFF6EC"/><stop offset="0.45" stop-color="#FEDDB5"/><stop offset="1" stop-color="#FDBB6C"/>
</linearGradient>
<linearGradient id="rm" gradientUnits="userSpaceOnUse" x1="0" y1="60" x2="0" y2="89">
<stop offset="0" stop-color="#fff" stop-opacity="0.55"/><stop offset="1" stop-color="#fff" stop-opacity="0"/>
</linearGradient>
<mask id="rmask" maskUnits="userSpaceOnUse" x="590" y="55" width="80" height="45"><rect x="590" y="55" width="80" height="45" fill="url(#rm)"/></mask>
</defs>
<rect x="79.6" y="98.4" width="55.9" height="43" fill="#FDCB90"/>
<rect x="79.6" y="145.4" width="55.9" height="42.8" fill="#FDCB90"/>
<rect x="79.6" y="189.8" width="55.9" height="44.1" fill="#FDCB90"/>
<rect x="79.6" y="235.5" width="55.9" height="44.1" fill="#FDCB90"/>
<rect x="79.6" y="281.2" width="55.9" height="43.9" fill="#FDCB90"/>
<rect x="79.6" y="326.9" width="55.9" height="44.1" fill="#FDCB90"/>
<rect x="506.5" y="141" width="89.5" height="2" fill="#B4C7E7"/>
<rect x="136.9" y="98.4" width="113.4" height="43" fill="#B4C7E7"/>
<rect x="251.7" y="98.4" width="113.6" height="43" fill="#B4C7E7"/>
<rect x="366.7" y="98.4" width="113.3" height="43" fill="#B4C7E7"/>
<rect x="481.4" y="98.4" width="114.6" height="43" fill="#B4C7E7"/>
<rect x="136.9" y="145.4" width="27.1" height="42.8" fill="#CFD5EA"/>
<rect x="165.4" y="145.4" width="27.4" height="42.8" fill="#EF8500"/>
<rect x="194.2" y="145.4" width="27.4" height="42.8" fill="#EF8500"/>
<rect x="223.0" y="145.4" width="27.3" height="42.8" fill="#EF8500"/>
<rect x="251.7" y="145.4" width="27.4" height="42.8" fill="#EF8500"/>
<rect x="280.5" y="145.4" width="28.6" height="42.8" fill="#EF8500"/>
<rect x="310.5" y="145.4" width="26.2" height="42.8" fill="#EF8500"/>
<rect x="338.1" y="145.4" width="27.2" height="42.8" fill="#EF8500"/>
<rect x="366.7" y="145.4" width="27.2" height="42.8" fill="#EF8500"/>
<rect x="395.3" y="145.4" width="27.6" height="42.8" fill="#EF8500"/>
<rect x="424.3" y="145.4" width="27.2" height="42.8" fill="#EF8500"/>
<rect x="452.9" y="145.4" width="27.1" height="42.8" fill="#EF8500"/>
<rect x="481.4" y="145.4" width="23.8" height="42.8" fill="#EF8500"/>
<rect x="506.6" y="144.2" width="30.9" height="44.0" fill="#EF8500"/>
<rect x="538.9" y="144.2" width="27.2" height="44.0" fill="#EF8500"/>
<rect x="567.5" y="144.2" width="28.5" height="44.0" fill="#EF8500"/>
<rect x="136.9" y="189.8" width="27.1" height="44.1" fill="#E8ECF6"/>
<rect x="165.4" y="189.8" width="27.4" height="44.1" fill="#E8ECF6"/>
<rect x="194.2" y="189.8" width="27.4" height="44.1" fill="#E8ECF6"/>
<rect x="223.0" y="189.8" width="27.3" height="44.1" fill="#E8ECF6"/>
<rect x="251.7" y="189.8" width="27.4" height="44.1" fill="#E8ECF6"/>
<rect x="280.5" y="189.8" width="28.6" height="44.1" fill="#E8ECF6"/>
<rect x="310.5" y="189.8" width="26.2" height="44.1" fill="#E8ECF6"/>
<rect x="338.1" y="189.8" width="27.2" height="44.1" fill="#E8ECF6"/>
<rect x="366.7" y="189.8" width="27.2" height="44.1" fill="#EF8500"/>
<rect x="395.3" y="189.8" width="27.6" height="44.1" fill="#EF8500"/>
<rect x="424.3" y="189.8" width="27.2" height="44.1" fill="#EF8500"/>
<rect x="452.9" y="189.8" width="27.1" height="44.1" fill="#EF8500"/>
<rect x="481.4" y="189.8" width="23.8" height="44.1" fill="#EF8500"/>
<rect x="506.6" y="189.8" width="30.9" height="44.1" fill="#EF8500"/>
<rect x="538.9" y="189.8" width="27.2" height="44.1" fill="#FED768"/>
<rect x="567.5" y="189.8" width="28.5" height="44.1" fill="#FED768"/>
<rect x="136.9" y="235.5" width="27.1" height="44.1" fill="#E8ECF6"/>
<rect x="165.4" y="235.5" width="27.4" height="44.1" fill="#E8ECF6"/>
<rect x="194.2" y="235.5" width="27.4" height="44.1" fill="#E8ECF6"/>
<rect x="223.0" y="235.5" width="27.3" height="44.1" fill="#E8ECF6"/>
<rect x="251.7" y="235.5" width="27.4" height="44.1" fill="#E8ECF6"/>
<rect x="280.5" y="235.5" width="28.6" height="44.1" fill="#E8ECF6"/>
<rect x="310.5" y="235.5" width="26.2" height="44.1" fill="#E8ECF6"/>
<rect x="338.1" y="235.5" width="27.2" height="44.1" fill="#E8ECF6"/>
<rect x="366.7" y="235.5" width="27.2" height="44.1" fill="#E8ECF6"/>
<rect x="395.3" y="235.5" width="27.6" height="44.1" fill="#E8ECF6"/>
<rect x="424.3" y="235.5" width="27.2" height="44.1" fill="#E8ECF6"/>
<rect x="452.9" y="235.5" width="27.1" height="44.1" fill="#E8ECF6"/>
<rect x="481.4" y="235.5" width="23.8" height="44.1" fill="#E8ECF6"/>
<rect x="506.6" y="235.5" width="30.9" height="44.1" fill="#E1EAEB"/>
<rect x="538.9" y="235.5" width="27.2" height="44.1" fill="#EF8500"/>
<rect x="567.5" y="235.5" width="28.5" height="44.1" fill="#EF8500"/>
<rect x="136.9" y="281.2" width="27.1" height="43.9" fill="#CFD5EA"/>
<rect x="165.4" y="281.2" width="27.4" height="43.9" fill="#CFD5EA"/>
<rect x="194.2" y="281.2" width="27.4" height="43.9" fill="#CFD5EA"/>
<rect x="223.0" y="281.2" width="27.3" height="43.9" fill="#CFD5EA"/>
<rect x="251.7" y="281.2" width="27.4" height="43.9" fill="#CFD5EA"/>
<rect x="280.5" y="281.2" width="28.6" height="43.9" fill="#CFD5EA"/>
<rect x="310.5" y="281.2" width="26.2" height="43.9" fill="#CFD5EA"/>
<rect x="338.1" y="281.2" width="27.2" height="43.9" fill="#CFD5EA"/>
<rect x="366.7" y="281.2" width="27.2" height="43.9" fill="#CFD5EA"/>
<rect x="395.3" y="281.2" width="27.6" height="43.9" fill="#CFD5EA"/>
<rect x="424.3" y="281.2" width="27.2" height="43.9" fill="#CFD5EA"/>
<rect x="452.9" y="281.2" width="27.1" height="43.9" fill="#CFD5EA"/>
<rect x="481.4" y="281.2" width="23.8" height="43.9" fill="#CFD5EA"/>
<rect x="506.6" y="281.2" width="30.9" height="43.9" fill="#CFD5EA"/>
<rect x="538.9" y="281.2" width="27.2" height="43.9" fill="#CFD5EA"/>
<rect x="567.5" y="281.2" width="28.5" height="43.9" fill="#CFD5EA"/>
<rect x="136.9" y="326.9" width="27.1" height="44.1" fill="#E8ECF6"/>
<rect x="165.4" y="326.9" width="27.4" height="44.1" fill="#E8ECF6"/>
<rect x="194.2" y="326.9" width="27.4" height="44.1" fill="#E8ECF6"/>
<rect x="223.0" y="326.9" width="27.3" height="44.1" fill="#E8ECF6"/>
<rect x="251.7" y="326.9" width="27.4" height="44.1" fill="#E8ECF6"/>
<rect x="280.5" y="326.9" width="28.6" height="44.1" fill="#E8ECF6"/>
<rect x="310.5" y="326.9" width="26.2" height="44.1" fill="#E8ECF6"/>
<rect x="338.1" y="326.9" width="27.2" height="44.1" fill="#E8ECF6"/>
<rect x="366.7" y="326.9" width="27.2" height="44.1" fill="#E8ECF6"/>
<rect x="395.3" y="326.9" width="27.6" height="44.1" fill="#E8ECF6"/>
<rect x="424.3" y="326.9" width="27.2" height="44.1" fill="#E8ECF6"/>
<rect x="452.9" y="326.9" width="27.1" height="44.1" fill="#E8ECF6"/>
<rect x="481.4" y="326.9" width="23.8" height="44.1" fill="#E8ECF6"/>
<rect x="506.6" y="326.9" width="30.9" height="44.1" fill="#E8ECF6"/>
<rect x="538.9" y="326.9" width="27.2" height="44.1" fill="#E8ECF6"/>
<rect x="567.5" y="326.9" width="28.5" height="44.1" fill="#E8ECF6"/>
<text y="126.70" class="t" style="font-size:22.7px"><tspan x="161.81" textLength="16.84" lengthAdjust="spacingAndGlyphs">2</tspan><tspan x="176.19" textLength="18.43" lengthAdjust="spacingAndGlyphs">0</tspan><tspan x="192.95" textLength="16.91" lengthAdjust="spacingAndGlyphs">2</tspan><tspan x="206.91" textLength="19.19" lengthAdjust="spacingAndGlyphs">0</tspan></text>
<text y="126.80" class="t" style="font-size:22.7px"><tspan x="280.09" textLength="17.46" lengthAdjust="spacingAndGlyphs">2</tspan><tspan x="294.96" textLength="18.69" lengthAdjust="spacingAndGlyphs">0</tspan><tspan x="311.16" textLength="17.73" lengthAdjust="spacingAndGlyphs">2</tspan><tspan x="322.52" textLength="18.69" lengthAdjust="spacingAndGlyphs" class="one">1</tspan></text>
<text y="126.80" class="t" style="font-size:22.7px"><tspan x="392.42" textLength="17.18" lengthAdjust="spacingAndGlyphs">2</tspan><tspan x="407.16" textLength="18.69" lengthAdjust="spacingAndGlyphs">0</tspan><tspan x="423.85" textLength="16.91" lengthAdjust="spacingAndGlyphs">2</tspan><tspan x="438.19" textLength="16.63" lengthAdjust="spacingAndGlyphs">2</tspan></text>
<text y="126.80" class="t" style="font-size:22.7px"><tspan x="507.92" textLength="17.18" lengthAdjust="spacingAndGlyphs">2</tspan><tspan x="522.48" textLength="18.56" lengthAdjust="spacingAndGlyphs">0</tspan><tspan x="539.15" textLength="16.91" lengthAdjust="spacingAndGlyphs">2</tspan><tspan x="553.26" textLength="15.38" lengthAdjust="spacingAndGlyphs">3</tspan></text>
<text y="171.80" class="t bold" style="font-size:22.7px"><tspan x="87.33" textLength="16.22" lengthAdjust="spacingAndGlyphs">2</tspan><tspan x="100.17" textLength="10.18" lengthAdjust="spacingAndGlyphs">.</tspan><tspan x="106.76" textLength="17.37" lengthAdjust="spacingAndGlyphs">7</tspan></text>
<text y="217.80" class="t" style="font-size:22.7px"><tspan x="86.74" textLength="14.71" lengthAdjust="spacingAndGlyphs">3</tspan><tspan x="99.00" textLength="8.02" lengthAdjust="spacingAndGlyphs">.</tspan><tspan x="104.97" textLength="17.68" lengthAdjust="spacingAndGlyphs">0</tspan></text>
<text y="263.80" class="t" style="font-size:22.7px"><tspan x="86.74" textLength="14.71" lengthAdjust="spacingAndGlyphs">3</tspan><tspan x="99.00" textLength="8.02" lengthAdjust="spacingAndGlyphs">.</tspan><tspan x="102.34" textLength="14.55" lengthAdjust="spacingAndGlyphs" class="one">1</tspan></text>
<text y="308.70" class="t bold" style="font-size:22.7px"><tspan x="86.58" textLength="16.04" lengthAdjust="spacingAndGlyphs">3</tspan><tspan x="99.29" textLength="8.64" lengthAdjust="spacingAndGlyphs">.</tspan><tspan x="105.97" textLength="16.77" lengthAdjust="spacingAndGlyphs">2</tspan></text>
<text y="354.70" class="t" style="font-size:22.7px"><tspan x="86.80" textLength="14.18" lengthAdjust="spacingAndGlyphs">3</tspan><tspan x="99.21" textLength="7.40" lengthAdjust="spacingAndGlyphs">.</tspan><tspan x="104.06" textLength="14.12" lengthAdjust="spacingAndGlyphs">3</tspan></text>
<g filter="url(#cv)">
<rect x="597.5" y="97.8" width="342" height="274" fill="#fff"/>
<rect x="597.5" y="97.8" width="114.2" height="43.4" fill="#C0D2F0"/>
<rect x="713.1" y="97.8" width="114.7" height="43.4" fill="#C0D2F0"/>
<rect x="829.2" y="97.8" width="110.2" height="43.4" fill="#C0D2F0"/>
<rect x="597.5" y="144.2" width="27.6" height="44.0" fill="#FF950F"/>
<rect x="626.5" y="144.2" width="27.4" height="44.0" fill="#FF950F"/>
<rect x="655.3" y="144.2" width="27.6" height="44.0" fill="#FFDF6B"/>
<rect x="684.3" y="144.2" width="27.4" height="44.0" fill="#FFDF6B"/>
<rect x="713.1" y="144.2" width="27.6" height="44.0" fill="#FFDF6B"/>
<rect x="742.1" y="144.2" width="27.7" height="44.0" fill="#FFDF6B"/>
<rect x="771.2" y="144.2" width="27.7" height="44.0" fill="#D8DCF1"/>
<rect x="800.3" y="144.2" width="27.5" height="44.0" fill="#D8DCF1"/>
<rect x="829.2" y="144.2" width="27.7" height="44.0" fill="#D8DCF1"/>
<rect x="858.3" y="144.2" width="27.6" height="44.0" fill="#D8DCF1"/>
<rect x="887.3" y="144.2" width="27.4" height="44.0" fill="#D8DCF1"/>
<rect x="916.1" y="144.2" width="23.3" height="44.0" fill="#D8DCF1"/>
<rect x="597.5" y="189.8" width="27.6" height="44.1" fill="#FFFFFF"/>
<rect x="626.5" y="189.8" width="27.4" height="44.1" fill="#FFFFFF"/>
<rect x="655.3" y="189.8" width="27.6" height="44.1" fill="#FFFFFF"/>
<rect x="684.3" y="189.8" width="27.4" height="44.1" fill="#FFFFFF"/>
<rect x="713.1" y="189.8" width="27.6" height="44.1" fill="#FFFFFF"/>
<rect x="742.1" y="189.8" width="27.7" height="44.1" fill="#FFFFFF"/>
<rect x="771.2" y="189.8" width="27.7" height="44.1" fill="#FFFFFF"/>
<rect x="800.3" y="189.8" width="27.5" height="44.1" fill="#FFFFFF"/>
<rect x="829.2" y="189.8" width="27.7" height="44.1" fill="#FFFFFF"/>
<rect x="858.3" y="189.8" width="27.6" height="44.1" fill="#FFFFFF"/>
<rect x="887.3" y="189.8" width="27.4" height="44.1" fill="#FFFFFF"/>
<rect x="916.1" y="189.8" width="23.3" height="44.1" fill="#FFFFFF"/>
<rect x="597.5" y="235.5" width="27.6" height="44.1" fill="#FF950F"/>
<rect x="626.5" y="235.5" width="27.4" height="44.1" fill="#FF950F"/>
<rect x="655.3" y="235.5" width="27.6" height="44.1" fill="#FFDF6B"/>
<rect x="684.3" y="235.5" width="27.4" height="44.1" fill="#FFDF6B"/>
<rect x="713.1" y="235.5" width="27.6" height="44.1" fill="#FFFFFF"/>
<rect x="742.1" y="235.5" width="27.7" height="44.1" fill="#FFFFFF"/>
<rect x="771.2" y="235.5" width="27.7" height="44.1" fill="#FFFFFF"/>
<rect x="800.3" y="235.5" width="27.5" height="44.1" fill="#FFFFFF"/>
<rect x="829.2" y="235.5" width="27.7" height="44.1" fill="#FFFFFF"/>
<rect x="858.3" y="235.5" width="27.6" height="44.1" fill="#FFFFFF"/>
<rect x="887.3" y="235.5" width="27.4" height="44.1" fill="#FFFFFF"/>
<rect x="916.1" y="235.5" width="23.3" height="44.1" fill="#FFFFFF"/>
<rect x="597.5" y="281.2" width="27.6" height="43.9" fill="#D8DCF1"/>
<rect x="626.5" y="281.2" width="27.4" height="43.9" fill="#D8DCF1"/>
<rect x="655.3" y="281.2" width="27.6" height="43.9" fill="#FF950F"/>
<rect x="684.3" y="281.2" width="27.4" height="43.9" fill="#FF950F"/>
<rect x="713.1" y="281.2" width="27.6" height="43.9" fill="#FF950F"/>
<rect x="742.1" y="281.2" width="27.7" height="43.9" fill="#FF950F"/>
<rect x="771.2" y="281.2" width="27.7" height="43.9" fill="#FF950F"/>
<rect x="800.3" y="281.2" width="27.5" height="43.9" fill="#FF950F"/>
<rect x="829.2" y="281.2" width="27.7" height="43.9" fill="#FF950F"/>
<rect x="858.3" y="281.2" width="27.6" height="43.9" fill="#FF950F"/>
<rect x="887.3" y="281.2" width="27.4" height="43.9" fill="#FF950F"/>
<rect x="916.1" y="281.2" width="23.3" height="43.9" fill="#FF950F"/>
<rect x="597.5" y="326.9" width="27.6" height="44.1" fill="#FFFFFF"/>
<rect x="626.5" y="326.9" width="27.4" height="44.1" fill="#FFFFFF"/>
<rect x="655.3" y="326.9" width="27.6" height="44.1" fill="#FFFFFF"/>
<rect x="684.3" y="326.9" width="27.4" height="44.1" fill="#FFFFFF"/>
<rect x="713.1" y="326.9" width="27.6" height="44.1" fill="#FFFFFF"/>
<rect x="742.1" y="326.9" width="27.7" height="44.1" fill="#FFFFFF"/>
<rect x="771.2" y="326.9" width="27.7" height="44.1" fill="#FF950F"/>
<rect x="800.3" y="326.9" width="27.5" height="44.1" fill="#FF950F"/>
<rect x="829.2" y="326.9" width="27.7" height="44.1" fill="#FF950F"/>
<rect x="858.3" y="326.9" width="27.6" height="44.1" fill="#FF950F"/>
<rect x="887.3" y="326.9" width="27.4" height="44.1" fill="#FFDF6B"/>
<rect x="916.1" y="326.9" width="23.3" height="44.1" fill="#FFDF6B"/>
<text y="125.70" class="t" style="font-size:22.7px"><tspan x="623.85" textLength="16.91" lengthAdjust="spacingAndGlyphs">2</tspan><tspan x="638.57" textLength="17.68" lengthAdjust="spacingAndGlyphs">0</tspan><tspan x="655.32" textLength="16.36" lengthAdjust="spacingAndGlyphs">2</tspan><tspan x="669.88" textLength="15.93" lengthAdjust="spacingAndGlyphs">4</tspan></text>
<text y="125.70" class="t" style="font-size:22.7px"><tspan x="739.85" textLength="16.91" lengthAdjust="spacingAndGlyphs">2</tspan><tspan x="754.57" textLength="17.68" lengthAdjust="spacingAndGlyphs">0</tspan><tspan x="771.32" textLength="16.36" lengthAdjust="spacingAndGlyphs">2</tspan><tspan x="785.50" textLength="16.46" lengthAdjust="spacingAndGlyphs">5</tspan></text>
<text y="125.70" class="t" style="font-size:22.7px"><tspan x="854.92" textLength="16.36" lengthAdjust="spacingAndGlyphs">2</tspan><tspan x="870.02" textLength="17.17" lengthAdjust="spacingAndGlyphs">0</tspan><tspan x="886.21" textLength="17.32" lengthAdjust="spacingAndGlyphs">2</tspan><tspan x="901.36" textLength="16.81" lengthAdjust="spacingAndGlyphs">6</tspan></text>
<rect x="597.5" y="97.8" width="342" height="274" fill="url(#wv)" style="mix-blend-mode:multiply"/>
<rect x="597.5" y="144.2" width="27.6" height="44.0" fill="#FF950F"/><rect x="597.5" y="144.2" width="27.6" height="44.0" fill="url(#wo)" style="mix-blend-mode:multiply"/>
<rect x="626.5" y="144.2" width="27.4" height="44.0" fill="#FF950F"/><rect x="626.5" y="144.2" width="27.4" height="44.0" fill="url(#wo)" style="mix-blend-mode:multiply"/>
<rect x="655.3" y="144.2" width="27.6" height="44.0" fill="#FFDF6B"/><rect x="655.3" y="144.2" width="27.6" height="44.0" fill="url(#wo)" style="mix-blend-mode:multiply"/>
<rect x="684.3" y="144.2" width="27.4" height="44.0" fill="#FFDF6B"/><rect x="684.3" y="144.2" width="27.4" height="44.0" fill="url(#wo)" style="mix-blend-mode:multiply"/>
<rect x="713.1" y="144.2" width="27.6" height="44.0" fill="#FFDF6B"/><rect x="713.1" y="144.2" width="27.6" height="44.0" fill="url(#wo)" style="mix-blend-mode:multiply"/>
<rect x="742.1" y="144.2" width="27.7" height="44.0" fill="#FFDF6B"/><rect x="742.1" y="144.2" width="27.7" height="44.0" fill="url(#wo)" style="mix-blend-mode:multiply"/>
<rect x="597.5" y="235.5" width="27.6" height="44.1" fill="#FF950F"/><rect x="597.5" y="235.5" width="27.6" height="44.1" fill="url(#wo)" style="mix-blend-mode:multiply"/>
<rect x="626.5" y="235.5" width="27.4" height="44.1" fill="#FF950F"/><rect x="626.5" y="235.5" width="27.4" height="44.1" fill="url(#wo)" style="mix-blend-mode:multiply"/>
<rect x="655.3" y="235.5" width="27.6" height="44.1" fill="#FFDF6B"/><rect x="655.3" y="235.5" width="27.6" height="44.1" fill="url(#wo)" style="mix-blend-mode:multiply"/>
<rect x="684.3" y="235.5" width="27.4" height="44.1" fill="#FFDF6B"/><rect x="684.3" y="235.5" width="27.4" height="44.1" fill="url(#wo)" style="mix-blend-mode:multiply"/>
<rect x="655.3" y="281.2" width="27.6" height="43.9" fill="#FF950F"/><rect x="655.3" y="281.2" width="27.6" height="43.9" fill="url(#wo)" style="mix-blend-mode:multiply"/>
<rect x="684.3" y="281.2" width="27.4" height="43.9" fill="#FF950F"/><rect x="684.3" y="281.2" width="27.4" height="43.9" fill="url(#wo)" style="mix-blend-mode:multiply"/>
<rect x="713.1" y="281.2" width="27.6" height="43.9" fill="#FF950F"/><rect x="713.1" y="281.2" width="27.6" height="43.9" fill="url(#wo)" style="mix-blend-mode:multiply"/>
<rect x="742.1" y="281.2" width="27.7" height="43.9" fill="#FF950F"/><rect x="742.1" y="281.2" width="27.7" height="43.9" fill="url(#wo)" style="mix-blend-mode:multiply"/>
<rect x="771.2" y="281.2" width="27.7" height="43.9" fill="#FF950F"/><rect x="771.2" y="281.2" width="27.7" height="43.9" fill="url(#wo)" style="mix-blend-mode:multiply"/>
<rect x="800.3" y="281.2" width="27.5" height="43.9" fill="#FF950F"/><rect x="800.3" y="281.2" width="27.5" height="43.9" fill="url(#wo)" style="mix-blend-mode:multiply"/>
<rect x="829.2" y="281.2" width="27.7" height="43.9" fill="#FF950F"/><rect x="829.2" y="281.2" width="27.7" height="43.9" fill="url(#wo)" style="mix-blend-mode:multiply"/>
<rect x="858.3" y="281.2" width="27.6" height="43.9" fill="#FF950F"/><rect x="858.3" y="281.2" width="27.6" height="43.9" fill="url(#wo)" style="mix-blend-mode:multiply"/>
<rect x="887.3" y="281.2" width="27.4" height="43.9" fill="#FF950F"/><rect x="887.3" y="281.2" width="27.4" height="43.9" fill="url(#wo)" style="mix-blend-mode:multiply"/>
<rect x="916.1" y="281.2" width="23.3" height="43.9" fill="#FF950F"/><rect x="916.1" y="281.2" width="23.3" height="43.9" fill="url(#wo)" style="mix-blend-mode:multiply"/>
<rect x="771.2" y="326.9" width="27.7" height="44.1" fill="#FF950F"/><rect x="771.2" y="326.9" width="27.7" height="44.1" fill="url(#wo)" style="mix-blend-mode:multiply"/>
<rect x="800.3" y="326.9" width="27.5" height="44.1" fill="#FF950F"/><rect x="800.3" y="326.9" width="27.5" height="44.1" fill="url(#wo)" style="mix-blend-mode:multiply"/>
<rect x="829.2" y="326.9" width="27.7" height="44.1" fill="#FF950F"/><rect x="829.2" y="326.9" width="27.7" height="44.1" fill="url(#wo)" style="mix-blend-mode:multiply"/>
<rect x="858.3" y="326.9" width="27.6" height="44.1" fill="#FF950F"/><rect x="858.3" y="326.9" width="27.6" height="44.1" fill="url(#wo)" style="mix-blend-mode:multiply"/>
<rect x="887.3" y="326.9" width="27.4" height="44.1" fill="#FFDF6B"/><rect x="887.3" y="326.9" width="27.4" height="44.1" fill="url(#wo)" style="mix-blend-mode:multiply"/>
<rect x="916.1" y="326.9" width="23.3" height="44.1" fill="#FFDF6B"/><rect x="916.1" y="326.9" width="23.3" height="44.1" fill="url(#wo)" style="mix-blend-mode:multiply"/>
</g>
<g mask="url(#rmask)"><g transform="translate(0,120) scale(1,-1)">
<path d="M598,20.5 C602,17 606,15 611,15 C624,15 633,25.5 646,25.5 C652,25.5 657,22.5 660.8,18.4 L660.8,54 C657,56.5 652,58 646,58 C633,58 624,48.5 611,48.5 C606,48.5 602,50.5 598,53 Z" fill="url(#fg)" stroke="#C46C0A" stroke-width="2.2"/></g></g>
<path d="M598,20.5 C602,17 606,15 611,15 C624,15 633,25.5 646,25.5 C652,25.5 657,22.5 660.8,18.4 L660.8,54 C657,56.5 652,58 646,58 C633,58 624,48.5 611,48.5 C606,48.5 602,50.5 598,53 Z" fill="url(#fg)" stroke="#C06A08" stroke-width="2.4" stroke-linejoin="round"/>
<rect x="595" y="17" width="3" height="384" fill="#EF8200"/>
<rect x="598" y="98" width="2" height="43" fill="#D6E0F2"/>
<rect x="598" y="141" width="2" height="140" fill="#EDF1FA"/>
<rect x="598" y="281.2" width="2" height="44" fill="#F39A20"/>
<rect x="598" y="326.9" width="2" height="44.1" fill="#FADB78"/>
<rect x="598" y="371" width="1" height="1" fill="#00E000"/><rect x="599" y="371" width="1" height="1" fill="#0000FF"/>
<rect x="0" y="550" width="1" height="1" fill="#FF0000"/><rect x="1" y="550" width="1" height="1" fill="#00E000"/><rect x="2" y="550" width="1" height="1" fill="#0000FF"/>
<polyline points="93.5,481.1 95.5,483.4 97.5,481.1 99.5,483.4 101.5,481.1 103.5,483.4 105.5,481.1 107.5,483.4 109.5,481.1 111.5,483.4 113.5,481.1 115.5,483.4 117.5,481.1 119.5,483.4 121.5,481.1 123.5,483.4 125.5,481.1 127.5,483.4 129.5,481.1 131.5,483.4 133.5,481.1 135.5,483.4 137.5,481.1 139.5,483.4 141.5,481.1 143.5,483.4 145.5,481.1 147.5,483.4 149.5,481.1 151.5,483.4 153.5,481.1 155.5,483.4 157.5,481.1 159.5,483.4 161.5,481.1 163.5,483.4 165.5,481.1 167.5,483.4 169.5,481.1 171.5,483.4 173.5,481.1 175.5,483.4 177.5,481.1 179.5,483.4 181.5,481.1 183.5,483.4 185.5,481.1" fill="none" stroke="#FF3434" stroke-width="1.1" stroke-linejoin="miter"/>
<text y="479.20" class="t lg2" style="font-size:22.7px"><tspan x="93.69" textLength="12.53" lengthAdjust="spacingAndGlyphs">L</tspan><tspan x="106.24" textLength="16.27" lengthAdjust="spacingAndGlyphs">e</tspan><tspan x="121.31" textLength="15.97" lengthAdjust="spacingAndGlyphs">g</tspan><tspan x="136.24" textLength="16.27" lengthAdjust="spacingAndGlyphs">e</tspan><tspan x="152.08" textLength="15.50" lengthAdjust="spacingAndGlyphs">n</tspan><tspan x="166.63" textLength="18.05" lengthAdjust="spacingAndGlyphs">d</tspan><tspan> </tspan><tspan x="187.59" textLength="12.10" lengthAdjust="spacingAndGlyphs">:</tspan></text>
<text y="479.70" class="t lg2" style="font-size:22.7px"><tspan x="438.78" textLength="17.65" lengthAdjust="spacingAndGlyphs">B</tspan><tspan x="455.17" textLength="15.91" lengthAdjust="spacingAndGlyphs">u</tspan><tspan x="470.37" textLength="16.49" lengthAdjust="spacingAndGlyphs">g</tspan><tspan x="485.04" textLength="12.09" lengthAdjust="spacingAndGlyphs">s</tspan><tspan> </tspan><tspan x="503.60" textLength="7.69" lengthAdjust="spacingAndGlyphs">f</tspan><tspan x="510.49" textLength="6.80" lengthAdjust="spacingAndGlyphs">i</tspan><tspan x="516.78" textLength="12.83" lengthAdjust="spacingAndGlyphs">x</tspan><tspan x="528.36" textLength="14.93" lengthAdjust="spacingAndGlyphs">e</tspan><tspan x="542.39" textLength="11.59" lengthAdjust="spacingAndGlyphs">s</tspan></text>
<text y="517.70" class="t lg2" style="font-size:22.7px"><tspan x="403.18" textLength="15.59" lengthAdjust="spacingAndGlyphs">S</tspan><tspan x="418.03" textLength="15.29" lengthAdjust="spacingAndGlyphs">e</tspan><tspan x="432.01" textLength="13.85" lengthAdjust="spacingAndGlyphs">c</tspan><tspan x="444.77" textLength="16.61" lengthAdjust="spacingAndGlyphs">u</tspan><tspan x="460.56" textLength="8.34" lengthAdjust="spacingAndGlyphs">r</tspan><tspan x="468.47" textLength="8.35" lengthAdjust="spacingAndGlyphs">i</tspan><tspan x="475.46" textLength="9.31" lengthAdjust="spacingAndGlyphs">t</tspan><tspan x="483.91" textLength="13.68" lengthAdjust="spacingAndGlyphs">y</tspan><tspan> </tspan><tspan x="503.60" textLength="7.69" lengthAdjust="spacingAndGlyphs">f</tspan><tspan x="510.49" textLength="6.80" lengthAdjust="spacingAndGlyphs">i</tspan><tspan x="516.78" textLength="12.83" lengthAdjust="spacingAndGlyphs">x</tspan><tspan x="528.36" textLength="14.93" lengthAdjust="spacingAndGlyphs">e</tspan><tspan x="542.39" textLength="11.59" lengthAdjust="spacingAndGlyphs">s</tspan></text>
<rect x="562" y="451" width="56" height="38" fill="#EF8500"/>
<rect x="562" y="489" width="56" height="38" fill="#FED768"/>
<text y="517.80" class="t lg2" style="font-size:22.7px"><tspan x="854.62" textLength="11.24" lengthAdjust="spacingAndGlyphs">L</tspan><tspan x="866.06" textLength="13.07" lengthAdjust="spacingAndGlyphs">T</tspan><tspan x="878.37" textLength="15.71" lengthAdjust="spacingAndGlyphs">S</tspan></text>
<rect x="903" y="489" width="55" height="38" fill="#CFD5EA"/>
</svg>
</body></html>
